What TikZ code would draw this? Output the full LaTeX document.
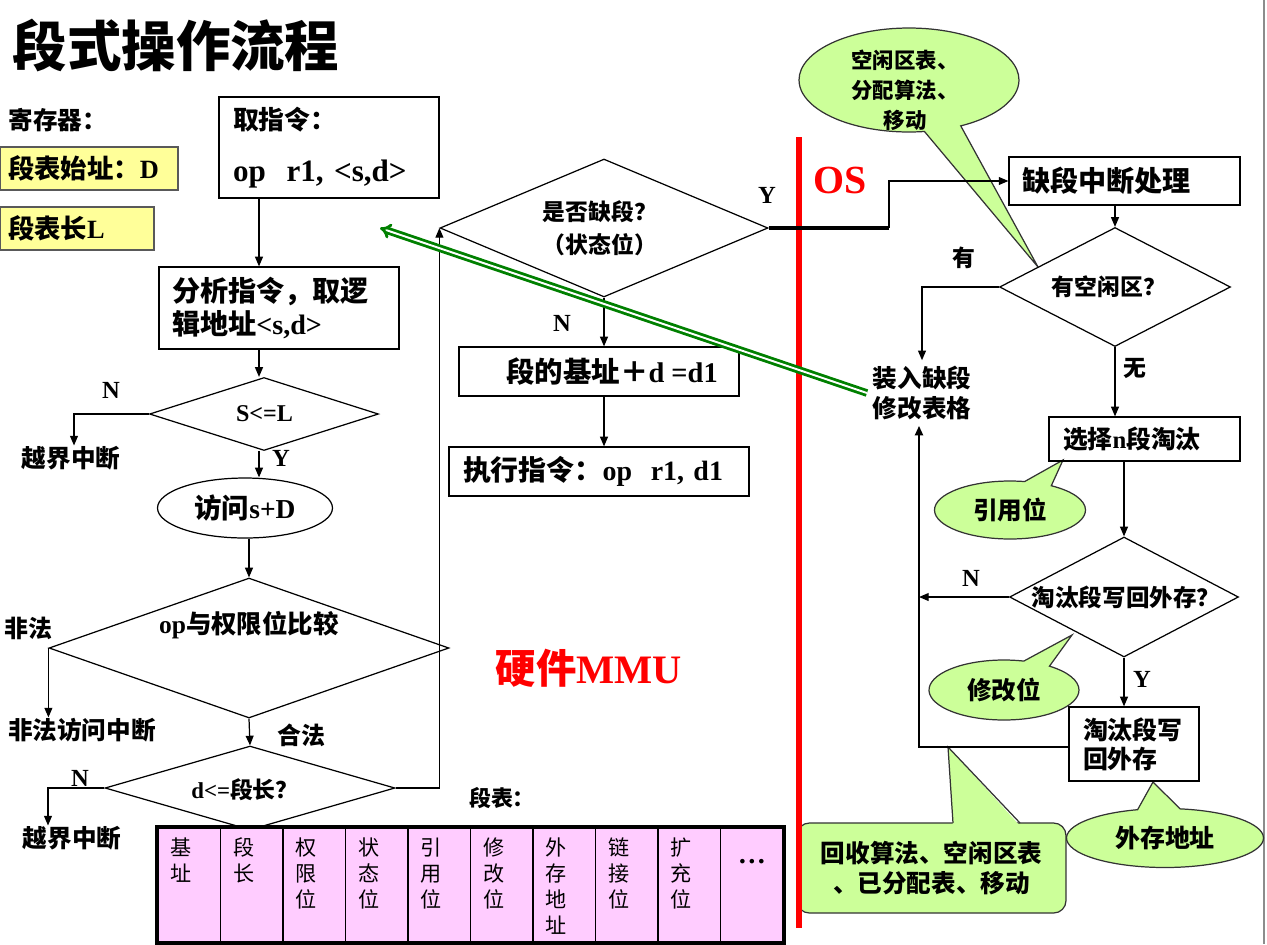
\documentclass[tikz,border=0pt]{standalone}
\usepackage{fontspec}
\setmainfont{Liberation Serif}
\newfontfamily\zhfont{Noto Sans CJK SC}
\usetikzlibrary{positioning, shapes.geometric, shapes.callouts, arrows.meta}
\definecolor{notegreen}{RGB}{204,255,153}
\definecolor{regyellow}{RGB}{255,255,153}
\definecolor{tablepink}{RGB}{255,204,255}
\definecolor{darkgreen}{RGB}{0,128,0}
\newcommand\zhb{\zhfont\bfseries}
\newcommand\zh[1]{{\zhb #1}}
\newcommand\fs[2]{\fontsize{#1}{#2}\selectfont}

\begin{document}
\begin{tikzpicture}[x=0.02cm, y=-0.02cm,
        line width=0.7pt,
        box/.style={rectangle, draw, inner sep=0pt, align=left},
        decision/.style={diamond, draw, inner sep=0pt},
        lbl/.style={inner sep=0pt},
        regbox/.style={rectangle, draw=black!65, fill=regyellow, inner sep=0pt, align=left},
        note/.style={draw=black!80, fill=notegreen, inner sep=0pt, align=center},
        cell/.style={rectangle, draw, fill=tablepink, minimum width=1.25cm, minimum height=2.28cm, inner sep=0pt},
        arrow/.style={-{Triangle[length=5.5pt,width=4.5pt]}},
        garrow/.style={-{Implies}, draw=darkgreen, double=white, line width=1.6pt, double distance=1.1pt}
    ]
        \useasboundingbox (0,0) rectangle (1267,944);
        \draw[black!45, line width=1pt] (1264,0) -- (1264,944);

        % Notes (drawn first, lines go over them)
        \node[note, ellipse callout, minimum width=4.4cm, minimum height=2.08cm, callout absolute pointer={(1038,267)}, callout pointer arc=20] (nFree) at (909,80) {};
        \node[lbl, align=center, font=\zhb\fs{12.2}{17}] (nFreeT) at (905,90) {空闲区表、\\分配算法、\\移动};
        \node[note, ellipse callout, minimum width=3.02cm, minimum height=1.16cm, callout absolute pointer={(1063,460)}, callout pointer arc=22, font=\zhb\fs{14}{17}] (nRef) at (1010,510) {引用位};
        \node[note, ellipse callout, minimum width=3cm, minimum height=1.2cm, callout absolute pointer={(1072,635)}, callout pointer arc=22, font=\zhb\fs{14}{17}] (nMod) at (1004,690) {修改位};
        \node[note, ellipse callout, minimum width=3.94cm, minimum height=1.18cm, callout absolute pointer={(1153,782)}, callout pointer arc=25, font=\zhb\fs{14.2}{17}] (nExt) at (1165,838) {外存地址};
        \node[note, rounded corners=7pt, minimum width=5.38cm, minimum height=1.8cm, font=\zhb\fs{14}{17}] (nRecl) at (931.5,868) {回收算法、空闲区表\\、已分配表、移动};
        \fill[notegreen] (953,828) -- (948,747) -- (1022,828) -- cycle;
        \draw[black!80] (953,823) -- (948,747) -- (1020,823);

        % Title and registers
        \node[lbl, font=\zhb\fs{31}{36}] (title) at (176,45) {段式操作流程};
        \node[lbl, anchor=west, font=\zhb\fs{14}{17}] (regs) at (8,120) {寄存器：};
        \node[regbox, minimum width=3.56cm, minimum height=0.86cm, text width=3.24cm, font=\bfseries\fs{15}{18}] (segBase) at (89,168.5) {\zh{段表始址：}D};
        \node[regbox, minimum width=3.08cm, minimum height=0.86cm, text width=2.76cm, font=\bfseries\fs{15}{18}] (segLen) at (77,228.5) {\zh{段表长}L};

        % Hardware MMU path
        \node[box, minimum width=4.4cm, minimum height=2.02cm, text width=3.84cm, font=\bfseries\fs{17.7}{21}] (fetch) at (329,147.5) {{\fs{14.7}{17}\zh{取指令：}}\\[9pt]op~~r1, <s,d>};
        \node[box, minimum width=4.8cm, minimum height=1.64cm, text width=4.28cm, font=\bfseries\fs{16}{18.7}] (parse) at (279,308) {\zh{分析指令，取逻}\\\zh{辑地址}<s,d>};
        \node[decision, minimum width=4.58cm, minimum height=1.46cm] (chkS) at (264,414) {};
        \node[lbl, font=\bfseries\fs{13.7}{16}] (chkST) at (264.5,414) {S<=L};
        \node[ellipse, draw, minimum width=3.5cm, minimum height=1.2cm, inner sep=0pt, font=\bfseries\fs{15.6}{18}] (visit) at (245,508) {\zh{访问}s+D};
        \node[decision, minimum width=8cm, minimum height=2.8cm] (chkOp) at (249,648) {};
        \node[lbl, font=\bfseries\fs{14.5}{17}] (chkOpT) at (249,625) {op\zh{与权限位比较}};
        \node[decision, minimum width=5.8cm, minimum height=1.68cm] (chkD) at (250,788) {};
        \node[lbl, font=\bfseries\fs{13}{16}] (chkDT) at (245,790) {d<=\zh{段长？}};

        \node[lbl, font=\zhb\fs{14}{17}] (oob1) at (71,458) {越界中断};
        \node[lbl, font=\zhb\fs{14}{17}] (illegal) at (82,730) {非法访问中断};
        \node[lbl, font=\zhb\fs{14}{17}] (oob2) at (72,838) {越界中断};
        \node[lbl, font=\bfseries\fs{14}{16}] (labN1) at (111,390) {N};
        \node[lbl, font=\bfseries\fs{14}{16}] (labY1) at (281,458) {Y};
        \node[lbl, font=\zhb\fs{13.6}{16}] (labBad) at (28,628) {非法};
        \node[lbl, font=\zhb\fs{13.6}{16}] (labOk) at (301,735) {合法};
        \node[lbl, font=\bfseries\fs{14}{16}] (labN2) at (80,778) {N};

        \node[decision, minimum width=6.56cm, minimum height=2.76cm] (miss) at (604,228) {};
        \node[lbl, align=center, font=\zhb\fs{13}{18.7}] (missT) at (600,228.5) {是否缺段？\\（状态位）};
        \node[box, minimum width=5.6cm, minimum height=0.98cm, align=center, font=\bfseries\fs{16.2}{19}] (addr) at (599,371.5) {\hspace*{0.52cm}\zh{段的基址＋}d =d1};
        \node[box, minimum width=6cm, minimum height=0.98cm, text width=5.44cm, font=\bfseries\fs{15.9}{19}] (exec) at (599,471.5) {\zh{执行指令：}op~~r1, d1};
        \node[lbl, font=\bfseries\fs{14}{16}] (labN3) at (562,323) {N};
        \node[lbl, font=\bfseries\fs{14}{16}] (labY2) at (767,195) {Y};
        \node[lbl, text=red, font=\bfseries\fs{23}{27}] (mmu) at (589,668) {\zh{硬件}MMU};

        % Segment table
        \node[lbl, font=\zhb\fs{12.5}{15}] (tabTitle) at (502,798) {段表：};
        \foreach \i in {0,...,9}
            \node[cell] (c\i) at ({189.25+62.5*\i},885) {};
        \foreach \i/\t in {0/{基\\址}, 1/{段\\长}, 2/{权\\限\\位}, 3/{状\\态\\位}, 4/{引\\用\\位}, 5/{修\\改\\位}, 6/{外\\存\\地\\址}, 7/{链\\接\\位}, 8/{扩\\充\\位}}
            \node[lbl, anchor=north, align=center, font=\zhfont\fs{12}{14.7}] (t\i) at ([xshift=-0.16cm, yshift=-0.2cm]c\i.north) {\t};
        \node[lbl, font=\bfseries\fs{16}{18}] (dots) at (752,862) {…};
        \draw[line width=2.2pt] (c0.north west) rectangle (c9.south east);

        % OS side
        \draw[red, line width=3.4pt] (799,137) -- (799,928);
        \node[lbl, text=red, font=\bfseries\fs{22.7}{26}] (os) at (840,180) {OS};
        \node[box, minimum width=4.62cm, minimum height=0.96cm, text width=4.1cm, font=\zhb\fs{16}{19}] (fault) at (1124.5,181) {缺段中断处理};
        \node[decision, minimum width=4.62cm, minimum height=2.38cm] (free) at (1115,287) {};
        \node[lbl, font=\zhb\fs{13}{16}] (freeT) at (1109,287) {有空闲区？};
        \node[lbl, inner sep=3pt, align=left, font=\zhb\fs{14}{17}] (load) at (922,393) {装入缺段\\修改表格};
        \node[box, minimum width=3.82cm, minimum height=0.88cm, text width=3.26cm, font=\bfseries\fs{14.1}{17}] (pick) at (1144.5,439) {\zh{选择}n\zh{段淘汰}};
        \node[decision, minimum width=4.58cm, minimum height=2.4cm] (dirty) at (1124,597) {};
        \node[lbl, font=\zhb\fs{13.4}{16}] (dirtyT) at (1126,597) {淘汰段写回外存？};
        \node[box, minimum width=2.6cm, minimum height=1.48cm, text width=2.04cm, font=\zhb\fs{14.2}{16.4}] (wback) at (1134,744) {淘汰段写\\回外存};
        \node[lbl, font=\zhb\fs{13}{16}] (labHas) at (964,258) {有};
        \node[lbl, font=\zhb\fs{13}{16}] (labNone) at (1135,368) {无};
        \node[lbl, font=\bfseries\fs{14}{16}] (labN4) at (971,578) {N};
        \node[lbl, font=\bfseries\fs{14}{16}] (labY3) at (1142,679) {Y};

        % Connectors, hardware side
        \coordinate (lx) at (259,0);
        \draw[arrow] (fetch.south -| lx) -- (parse.north -| lx);
        \draw[arrow] (parse.south -| lx) -- (chkS.north -| lx);
        \draw[arrow] (chkS.south -| lx) -- (visit.north -| lx);
        \draw[arrow] (visit.south -| chkOp.north) -- (chkOp.north);
        \draw[arrow] (chkOp.south) -- (chkD.north);
        \coordinate (nS) at (74,414);
        \draw[arrow] (chkS.west) -- (nS) -- (nS |- oob1.north);
        \draw[arrow] (chkOp.west) -- (chkOp.west |- illegal.north);
        \coordinate (nD) at (48,788);
        \draw[arrow] (chkD.west) -- (nD) -- (nD |- oob2.north);
        \draw[arrow] (chkD.east) -| (miss.west);
        \draw[arrow] (miss.south) -- (miss.south |- addr.north);
        \draw[arrow] (addr.south -| miss.south) -- (exec.north -| miss.south);
        \coordinate (yTurn) at (889,228);
        \draw[line width=2pt] (miss.east) -- (yTurn);
        \draw[arrow] (yTurn) |- (fault.west);

        % Connectors, OS side
        \draw[arrow] (fault.south -| free.north) -- (free.north);
        \draw[arrow] (free.west) -| (load.north);
        \draw[arrow] (free.south) -- (free.south |- pick.north);
        \draw[arrow] (pick.south -| dirty.north) -- (dirty.north);
        \coordinate (back) at (919,747);
        \draw[arrow] (dirty.west) -- (dirty.west -| back);
        \draw[arrow] (dirty.south) -- (dirty.south |- wback.north);
        \draw[arrow, line width=1.6pt] (wback.west |- back) -- (back) -- (back |- load.south);

        % Green pointer back to the instruction
        \coordinate (gTip) at (380,228);
        \draw[garrow] (load.west) -- (gTip);
    \end{tikzpicture}
\end{document}
